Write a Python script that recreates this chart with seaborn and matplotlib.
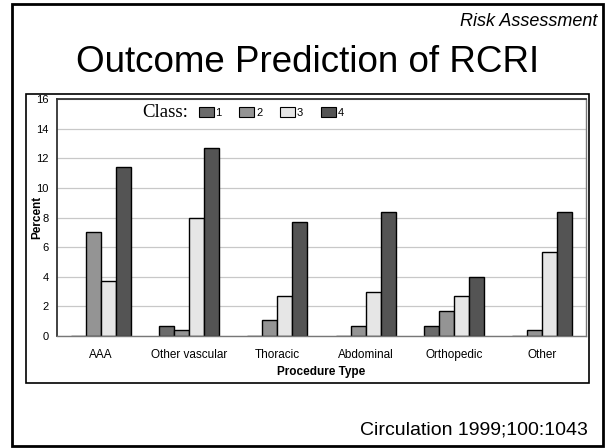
import seaborn as sns
import matplotlib.pyplot as plt
import matplotlib.patches as mpatches
import pandas as pd

procedures = ["AAA", "Other vascular", "Thoracic", "Abdominal", "Orthopedic", "Other"]
classes = ["1", "2", "3", "4"]
class1 = [0.0, 0.7, 0.0, 0.0, 0.7, 0.0]
class2 = [7.0, 0.4, 1.1, 0.7, 1.7, 0.4]
class3 = [3.7, 8.0, 2.7, 3.0, 2.7, 5.7]
class4 = [11.4, 12.7, 7.7, 8.4, 4.0, 8.4]
yticks = [0, 2, 4, 6, 8, 10, 12, 14, 16]

colors = ["#6b6b6b", "#949494", "#e6e6e6", "#545454"]

rows = []
for c, vals in zip(classes, [class1, class2, class3, class4]):
    for p, v in zip(procedures, vals):
        rows.append({"Procedure Type": p, "Class": c, "Percent": v})
df = pd.DataFrame(rows)

sns.set_style("white")
plt.rcParams["font.family"] = ["Liberation Sans", "DejaVu Sans"]
plt.rcParams["text.color"] = "black"
plt.rcParams["axes.labelcolor"] = "black"
plt.rcParams["xtick.color"] = "black"
plt.rcParams["ytick.color"] = "black"

fig = plt.figure(figsize=(6.12, 4.48), dpi=100)
ax = fig.add_axes([0.093, 0.25, 0.865, 0.529])

sns.barplot(data=df, x="Procedure Type", y="Percent", hue="Class",
            palette=colors, width=0.68, edgecolor="black", linewidth=1,
            order=procedures, hue_order=classes, ax=ax, legend=False)

ax.set_ylim(0, 16)
ax.set_yticks(yticks)
ax.set_yticklabels([str(t) for t in yticks], fontsize=8)
ax.tick_params(axis="x", labelsize=8.5, length=0, pad=9)
ax.tick_params(axis="y", length=0, pad=6)
ax.yaxis.grid(True, color="#c8c8c8", linewidth=0.9)
ax.set_axisbelow(True)
ax.set_xlabel("Procedure Type", fontsize=8.5, fontweight="bold", labelpad=4)
ax.set_ylabel("Percent", fontsize=8.5, fontweight="bold", labelpad=-5)
for side, sp in ax.spines.items():
    sp.set_visible(True)
    sp.set_color("#333333" if side in ("left", "top") else "#777777")
    sp.set_linewidth(1.3 if side in ("left", "top") else 1.0)

# legend with "Class:" label
handles = [mpatches.Patch(facecolor=col, edgecolor="black", linewidth=0.8, label=c)
           for col, c in zip(colors, classes)]
ax.legend(handles=handles, ncol=4, frameon=False, fontsize=8,
          loc="center left", bbox_to_anchor=(0.268, 0.943),
          handlelength=1.35, handleheight=1.0, handletextpad=0.15,
          columnspacing=1.6, borderaxespad=0, borderpad=0)
ax.text(0.161, 0.945, "Class:", transform=ax.transAxes, ha="left", va="center",
        fontsize=13.5, family="Liberation Serif")

# chart box and slide frame
fig.patches.append(mpatches.Rectangle((0.042, 0.145), 0.920, 0.645, transform=fig.transFigure,
                                      fill=False, edgecolor="black", linewidth=1.2))
fig.patches.append(mpatches.Rectangle((0.0196, 0.0045), 0.966, 0.987, transform=fig.transFigure,
                                      fill=False, edgecolor="black", linewidth=2))

fig.text(0.976, 0.952, "Risk Assessment", ha="right", va="center", fontsize=13, style="italic")
fig.text(0.502, 0.86, "Outcome Prediction of RCRI", ha="center", va="center", fontsize=26.5)
fig.text(0.961, 0.04, "Circulation 1999;100:1043", ha="right", va="center", fontsize=14)

fig.savefig("out.png", dpi=100)
